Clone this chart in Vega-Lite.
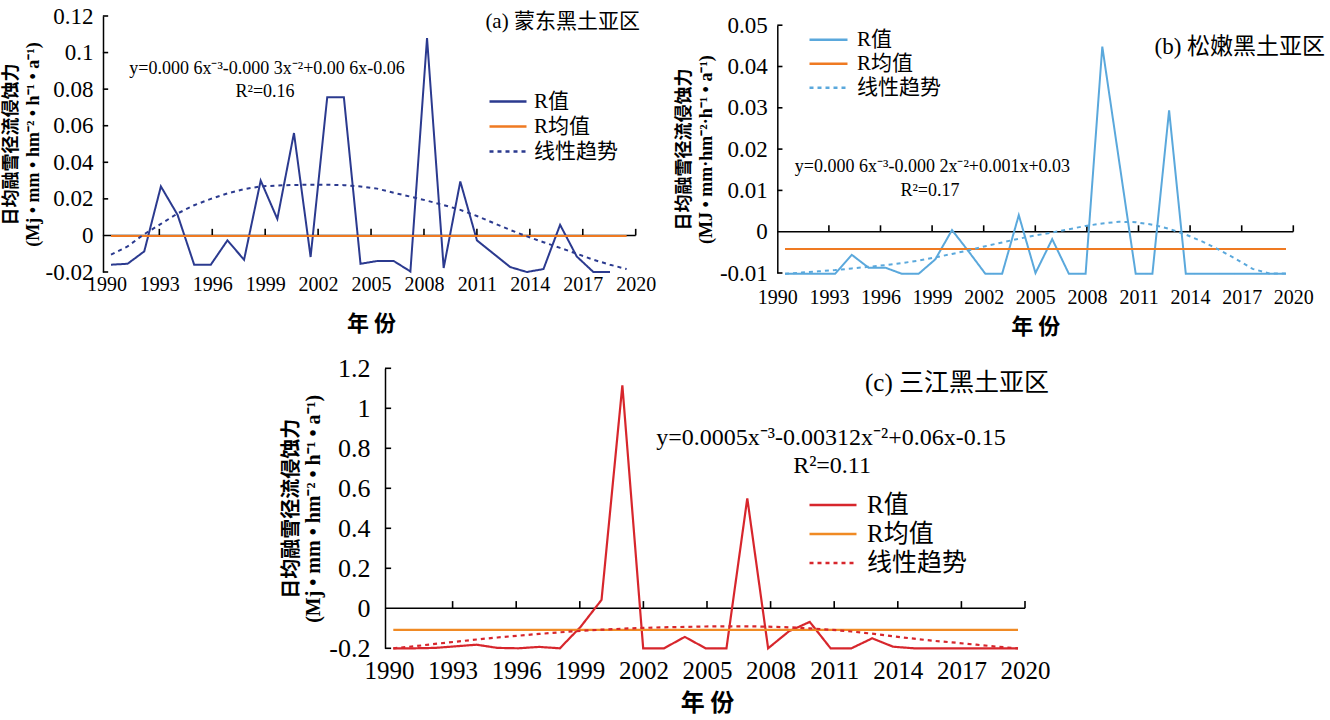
{
  "$schema": "https://vega.github.io/schema/vega-lite/v6.json",
  "width": 1330,
  "height": 720,
  "autosize": "none",
  "padding": 0,
  "background": "white",
  "config": {"view": {"stroke": null}, "axis": {"grid": false, "labelColor": "black", "titleColor": "black"}},
  "datasets": {
    "series": [
      {"p":"A","s":"R值","year":1990,"v":-0.016},{"p":"A","s":"R值","year":1991,"v":-0.0155},{"p":"A","s":"R值","year":1992,"v":-0.0087},{"p":"A","s":"R值","year":1993,"v":0.0268},{"p":"A","s":"R值","year":1994,"v":0.0113},{"p":"A","s":"R值","year":1995,"v":-0.016},{"p":"A","s":"R值","year":1996,"v":-0.016},{"p":"A","s":"R值","year":1997,"v":-0.0027},{"p":"A","s":"R值","year":1998,"v":-0.0133},{"p":"A","s":"R值","year":1999,"v":0.030},{"p":"A","s":"R值","year":2000,"v":0.009},{"p":"A","s":"R值","year":2001,"v":0.056},{"p":"A","s":"R值","year":2002,"v":-0.0118},{"p":"A","s":"R值","year":2003,"v":0.0756},{"p":"A","s":"R值","year":2004,"v":0.0756},{"p":"A","s":"R值","year":2005,"v":-0.0155},{"p":"A","s":"R值","year":2006,"v":-0.014},{"p":"A","s":"R值","year":2007,"v":-0.014},{"p":"A","s":"R值","year":2008,"v":-0.0197},{"p":"A","s":"R值","year":2009,"v":0.1079},{"p":"A","s":"R值","year":2010,"v":-0.0178},{"p":"A","s":"R值","year":2011,"v":0.0295},{"p":"A","s":"R值","year":2012,"v":-0.0027},{"p":"A","s":"R值","year":2013,"v":-0.010},{"p":"A","s":"R值","year":2014,"v":-0.0173},{"p":"A","s":"R值","year":2015,"v":-0.020},{"p":"A","s":"R值","year":2016,"v":-0.0184},{"p":"A","s":"R值","year":2017,"v":0.0058},{"p":"A","s":"R值","year":2018,"v":-0.0115},{"p":"A","s":"R值","year":2019,"v":-0.020},{"p":"A","s":"R值","year":2020,"v":-0.020},
      {"p":"A","s":"R均值","year":1990,"v":-0.0003},{"p":"A","s":"R均值","year":2021,"v":-0.0003},
      {"p":"A","s":"线性趋势","year":1990,"v":-0.0105},{"p":"A","s":"线性趋势","year":1991,"v":-0.006},{"p":"A","s":"线性趋势","year":1992,"v":0.0007},{"p":"A","s":"线性趋势","year":1993,"v":0.0063},{"p":"A","s":"线性趋势","year":1994,"v":0.012},{"p":"A","s":"线性趋势","year":1995,"v":0.0165},{"p":"A","s":"线性趋势","year":1996,"v":0.02},{"p":"A","s":"线性趋势","year":1997,"v":0.023},{"p":"A","s":"线性趋势","year":1998,"v":0.0253},{"p":"A","s":"线性趋势","year":1999,"v":0.0268},{"p":"A","s":"线性趋势","year":2000,"v":0.0273},{"p":"A","s":"线性趋势","year":2001,"v":0.0276},{"p":"A","s":"线性趋势","year":2002,"v":0.0277},{"p":"A","s":"线性趋势","year":2003,"v":0.0277},{"p":"A","s":"线性趋势","year":2004,"v":0.0275},{"p":"A","s":"线性趋势","year":2005,"v":0.0268},{"p":"A","s":"线性趋势","year":2006,"v":0.0256},{"p":"A","s":"线性趋势","year":2007,"v":0.0233},{"p":"A","s":"线性趋势","year":2008,"v":0.0212},{"p":"A","s":"线性趋势","year":2009,"v":0.019},{"p":"A","s":"线性趋势","year":2010,"v":0.0166},{"p":"A","s":"线性趋势","year":2011,"v":0.014},{"p":"A","s":"线性趋势","year":2012,"v":0.0106},{"p":"A","s":"线性趋势","year":2013,"v":0.0068},{"p":"A","s":"线性趋势","year":2014,"v":0.003},{"p":"A","s":"线性趋势","year":2015,"v":-0.0005},{"p":"A","s":"线性趋势","year":2016,"v":-0.0037},{"p":"A","s":"线性趋势","year":2017,"v":-0.0068},{"p":"A","s":"线性趋势","year":2018,"v":-0.01},{"p":"A","s":"线性趋势","year":2019,"v":-0.0133},{"p":"A","s":"线性趋势","year":2020,"v":-0.016},{"p":"A","s":"线性趋势","year":2021,"v":-0.0184},
      {"p":"B","s":"R值","year":1990,"v":-0.0102},{"p":"B","s":"R值","year":1991,"v":-0.0102},{"p":"B","s":"R值","year":1992,"v":-0.0102},{"p":"B","s":"R值","year":1993,"v":-0.0102},{"p":"B","s":"R值","year":1994,"v":-0.0056},{"p":"B","s":"R值","year":1995,"v":-0.0087},{"p":"B","s":"R值","year":1996,"v":-0.0087},{"p":"B","s":"R值","year":1997,"v":-0.0102},{"p":"B","s":"R值","year":1998,"v":-0.0102},{"p":"B","s":"R值","year":1999,"v":-0.0067},{"p":"B","s":"R值","year":2000,"v":0.0004},{"p":"B","s":"R值","year":2001,"v":-0.0048},{"p":"B","s":"R值","year":2002,"v":-0.0102},{"p":"B","s":"R值","year":2003,"v":-0.0102},{"p":"B","s":"R值","year":2004,"v":0.004},{"p":"B","s":"R值","year":2005,"v":-0.01},{"p":"B","s":"R值","year":2006,"v":-0.0018},{"p":"B","s":"R值","year":2007,"v":-0.0102},{"p":"B","s":"R值","year":2008,"v":-0.0102},{"p":"B","s":"R值","year":2009,"v":0.0448},{"p":"B","s":"R值","year":2010,"v":0.0173},{"p":"B","s":"R值","year":2011,"v":-0.0102},{"p":"B","s":"R值","year":2012,"v":-0.0102},{"p":"B","s":"R值","year":2013,"v":0.0294},{"p":"B","s":"R值","year":2014,"v":-0.0102},{"p":"B","s":"R值","year":2015,"v":-0.0102},{"p":"B","s":"R值","year":2016,"v":-0.0102},{"p":"B","s":"R值","year":2017,"v":-0.0102},{"p":"B","s":"R值","year":2018,"v":-0.0102},{"p":"B","s":"R值","year":2019,"v":-0.0102},{"p":"B","s":"R值","year":2020,"v":-0.0102},
      {"p":"B","s":"R均值","year":1990,"v":-0.0042},{"p":"B","s":"R均值","year":2020,"v":-0.0042},
      {"p":"B","s":"线性趋势","year":1990,"v":-0.0102},{"p":"B","s":"线性趋势","year":1991,"v":-0.0099},{"p":"B","s":"线性趋势","year":1992,"v":-0.0096},{"p":"B","s":"线性趋势","year":1993,"v":-0.0093},{"p":"B","s":"线性趋势","year":1994,"v":-0.0089},{"p":"B","s":"线性趋势","year":1995,"v":-0.0085},{"p":"B","s":"线性趋势","year":1996,"v":-0.0081},{"p":"B","s":"线性趋势","year":1997,"v":-0.0076},{"p":"B","s":"线性趋势","year":1998,"v":-0.007},{"p":"B","s":"线性趋势","year":1999,"v":-0.0062},{"p":"B","s":"线性趋势","year":2000,"v":-0.0054},{"p":"B","s":"线性趋势","year":2001,"v":-0.0045},{"p":"B","s":"线性趋势","year":2002,"v":-0.0035},{"p":"B","s":"线性趋势","year":2003,"v":-0.0026},{"p":"B","s":"线性趋势","year":2004,"v":-0.0017},{"p":"B","s":"线性趋势","year":2005,"v":-0.0009},{"p":"B","s":"线性趋势","year":2006,"v":-0.0002},{"p":"B","s":"线性趋势","year":2007,"v":0.0006},{"p":"B","s":"线性趋势","year":2008,"v":0.0014},{"p":"B","s":"线性趋势","year":2009,"v":0.002},{"p":"B","s":"线性趋势","year":2010,"v":0.0024},{"p":"B","s":"线性趋势","year":2011,"v":0.0023},{"p":"B","s":"线性趋势","year":2012,"v":0.0017},{"p":"B","s":"线性趋势","year":2013,"v":0.0007},{"p":"B","s":"线性趋势","year":2014,"v":-0.0007},{"p":"B","s":"线性趋势","year":2015,"v":-0.0024},{"p":"B","s":"线性趋势","year":2016,"v":-0.0044},{"p":"B","s":"线性趋势","year":2017,"v":-0.0066},{"p":"B","s":"线性趋势","year":2018,"v":-0.009},{"p":"B","s":"线性趋势","year":2019,"v":-0.0101},{"p":"B","s":"线性趋势","year":2020,"v":-0.0101},
      {"p":"C","s":"R值","year":1990,"v":-0.2},{"p":"C","s":"R值","year":1991,"v":-0.2},{"p":"C","s":"R值","year":1992,"v":-0.198},{"p":"C","s":"R值","year":1993,"v":-0.19},{"p":"C","s":"R值","year":1994,"v":-0.182},{"p":"C","s":"R值","year":1995,"v":-0.198},{"p":"C","s":"R值","year":1996,"v":-0.2},{"p":"C","s":"R值","year":1997,"v":-0.193},{"p":"C","s":"R值","year":1998,"v":-0.2},{"p":"C","s":"R值","year":1999,"v":-0.092},{"p":"C","s":"R值","year":2000,"v":0.042},{"p":"C","s":"R值","year":2001,"v":1.115},{"p":"C","s":"R值","year":2002,"v":-0.2},{"p":"C","s":"R值","year":2003,"v":-0.2},{"p":"C","s":"R值","year":2004,"v":-0.143},{"p":"C","s":"R值","year":2005,"v":-0.2},{"p":"C","s":"R值","year":2006,"v":-0.2},{"p":"C","s":"R值","year":2007,"v":0.55},{"p":"C","s":"R值","year":2008,"v":-0.2},{"p":"C","s":"R值","year":2009,"v":-0.115},{"p":"C","s":"R值","year":2010,"v":-0.068},{"p":"C","s":"R值","year":2011,"v":-0.2},{"p":"C","s":"R值","year":2012,"v":-0.2},{"p":"C","s":"R值","year":2013,"v":-0.15},{"p":"C","s":"R值","year":2014,"v":-0.192},{"p":"C","s":"R值","year":2015,"v":-0.2},{"p":"C","s":"R值","year":2016,"v":-0.2},{"p":"C","s":"R值","year":2017,"v":-0.2},{"p":"C","s":"R值","year":2018,"v":-0.2},{"p":"C","s":"R值","year":2019,"v":-0.2},{"p":"C","s":"R值","year":2020,"v":-0.2},
      {"p":"C","s":"R均值","year":1990,"v":-0.108},{"p":"C","s":"R均值","year":2020,"v":-0.108},
      {"p":"C","s":"线性趋势","year":1990,"v":-0.2},{"p":"C","s":"线性趋势","year":1991,"v":-0.19},{"p":"C","s":"线性趋势","year":1992,"v":-0.178},{"p":"C","s":"线性趋势","year":1993,"v":-0.167},{"p":"C","s":"线性趋势","year":1994,"v":-0.156},{"p":"C","s":"线性趋势","year":1995,"v":-0.146},{"p":"C","s":"线性趋势","year":1996,"v":-0.137},{"p":"C","s":"线性趋势","year":1997,"v":-0.128},{"p":"C","s":"线性趋势","year":1998,"v":-0.12},{"p":"C","s":"线性趋势","year":1999,"v":-0.113},{"p":"C","s":"线性趋势","year":2000,"v":-0.107},{"p":"C","s":"线性趋势","year":2001,"v":-0.102},{"p":"C","s":"线性趋势","year":2002,"v":-0.098},{"p":"C","s":"线性趋势","year":2003,"v":-0.095},{"p":"C","s":"线性趋势","year":2004,"v":-0.093},{"p":"C","s":"线性趋势","year":2005,"v":-0.091},{"p":"C","s":"线性趋势","year":2006,"v":-0.09},{"p":"C","s":"线性趋势","year":2007,"v":-0.09},{"p":"C","s":"线性趋势","year":2008,"v":-0.092},{"p":"C","s":"线性趋势","year":2009,"v":-0.095},{"p":"C","s":"线性趋势","year":2010,"v":-0.1},{"p":"C","s":"线性趋势","year":2011,"v":-0.107},{"p":"C","s":"线性趋势","year":2012,"v":-0.116},{"p":"C","s":"线性趋势","year":2013,"v":-0.127},{"p":"C","s":"线性趋势","year":2014,"v":-0.14},{"p":"C","s":"线性趋势","year":2015,"v":-0.152},{"p":"C","s":"线性趋势","year":2016,"v":-0.163},{"p":"C","s":"线性趋势","year":2017,"v":-0.172},{"p":"C","s":"线性趋势","year":2018,"v":-0.182},{"p":"C","s":"线性趋势","year":2019,"v":-0.192},{"p":"C","s":"线性趋势","year":2020,"v":-0.2}
    ],
    "notes": [
      {"p":"A","k":"eq","year":1999.38,"v":0.091,"t":"y=0.000 6x⁻³-0.000 3x⁻²+0.00 6x-0.06"},
      {"p":"A","k":"eq","year":1999.26,"v":0.0784,"t":"R²=0.16"},
      {"p":"A","k":"title","year":2021.8,"v":0.1167,"t":"(a) 蒙东黑土亚区"},
      {"p":"B","k":"eq","year":1998.83,"v":0.01567,"t":"y=0.000 6x⁻³-0.000 2x⁻²+0.001x+0.03"},
      {"p":"B","k":"eq","year":1998.68,"v":0.00985,"t":"R²=0.17"},
      {"p":"B","k":"title","year":2022.34,"v":0.0447,"t":"(b) 松嫩黑土亚区"},
      {"p":"C","k":"eq","year":2011.02,"v":0.85,"t":"y=0.0005x⁻³-0.00312x⁻²+0.06x-0.15"},
      {"p":"C","k":"eq","year":2011.07,"v":0.7115,"t":"R²=0.11"},
      {"p":"C","k":"title","year":2021.49,"v":1.1265,"t":"(c) 三江黑土亚区"}
    ],
    "yearTicks": [{"t":1993},{"t":1996},{"t":1999},{"t":2002},{"t":2005},{"t":2008},{"t":2011},{"t":2014},{"t":2017},{"t":2020}],
    "aTicks": [{"t":-0.02},{"t":0.02},{"t":0.04},{"t":0.06},{"t":0.08},{"t":0.1},{"t":0.12}],
    "bTicks": [{"t":-0.01},{"t":0.01},{"t":0.02},{"t":0.03},{"t":0.04},{"t":0.05}],
    "cTicks": [{"t":-0.2},{"t":0.2},{"t":0.4},{"t":0.6},{"t":0.8},{"t":1},{"t":1.2}]
  },
  "resolve": {
    "scale": {"x": "independent", "y": "independent", "color": "independent", "strokeDash": "independent"},
    "axis": {"x": "independent", "y": "independent"},
    "legend": {"color": "independent", "strokeDash": "independent"}
  },
  "layer": [
    {
      "data": {"values": [{}]},
      "mark": {"type": "rule", "color": "black", "strokeWidth": 1.5},
      "encoding": {
        "x": {"datum": 1989.8, "type": "quantitative", "scale": {"domain": [1990, 2020], "range": [106.4, 635.7], "nice": false, "zero": false},
          "axis": {"orient": "bottom", "offset": -484.57, "values": [1990,1993,1996,1999,2002,2005,2008,2011,2014,2017,2020], "format": "d", "domain": false, "ticks": false, "labelPadding": 48.6, "labelBaseline": "middle", "labelFont": "Liberation Serif", "labelFontSize": 20, "labelFlush": false, "labelOverlap": false, "labelBound": false, "title": "年 份", "titleFont": "Noto Sans CJK SC", "titleFontWeight": "bold", "titleFontSize": 22, "titlePadding": 19}},
        "x2": {"datum": 2020},
        "y": {"datum": 0, "type": "quantitative", "scale": {"domain": [-0.02, 0.12], "range": [272, 16], "nice": false, "zero": false}, "axis": null}
      }
    },
    {
      "data": {"name": "yearTicks"},
      "mark": {"type": "rule", "color": "black", "strokeWidth": 1.6},
      "encoding": {
        "x": {"field": "t", "type": "quantitative", "scale": {"domain": [1990, 2020], "range": [106.4, 635.7], "nice": false, "zero": false}, "axis": null},
        "y": {"datum": 0, "type": "quantitative", "scale": {"domain": [-0.02, 0.12], "range": [272, 16], "nice": false, "zero": false}, "axis": null},
        "y2": {"datum": 0.0036}
      }
    },
    {
      "data": {"name": "aTicks"},
      "mark": {"type": "rule", "color": "black", "strokeWidth": 1.6},
      "encoding": {
        "x": {"datum": 1989.8, "type": "quantitative", "scale": {"domain": [1990, 2020], "range": [106.4, 635.7], "nice": false, "zero": false}, "axis": null},
        "x2": {"datum": 1990.1},
        "y": {"field": "t", "type": "quantitative", "scale": {"domain": [-0.02, 0.12], "range": [272, 16], "nice": false, "zero": false}, "axis": null}
      }
    },
    {
      "data": {"name": "series"},
      "transform": [{"filter": "datum.p == 'A'"}],
      "mark": {"type": "line", "strokeWidth": 2},
      "encoding": {
        "x": {"field": "year", "type": "quantitative", "scale": {"domain": [1990, 2020], "range": [111, 610], "nice": false, "zero": false}, "axis": null},
        "y": {"field": "v", "type": "quantitative", "scale": {"domain": [-0.02, 0.12], "range": [272, 16], "nice": false, "zero": false},
          "axis": {"orient": "left", "offset": -103, "values": [-0.02,0,0.02,0.04,0.06,0.08,0.1,0.12], "labelExpr": "'' + datum.value", "domainColor": "black", "domainWidth": 1.5, "ticks": false, "labelPadding": 10, "labelFont": "Liberation Serif", "labelFontSize": 23, "labelFlush": false, "labelOverlap": false, "labelBound": false,
            "title": ["日均融雪径流侵蚀力", "(Mj • mm • hm⁻² • h⁻¹ • a⁻¹)"], "titleFont": "Liberation Serif, Noto Sans CJK SC", "titleFontSize": 18, "titleFontWeight": "bold", "titlePadding": 3, "titleLineHeight": 22}},
        "color": {"field": "s", "type": "nominal", "scale": {"domain": ["R值","R均值","线性趋势"], "range": ["#2B3A8F","#EF7A22","#2B3A8F"]},
          "legend": {"orient": "none", "legendX": 488, "legendY": 89, "title": null, "symbolType": "stroke", "symbolSize": 1369, "symbolStrokeWidth": 2.5, "labelFont": "Liberation Serif, Noto Sans CJK SC", "labelFontSize": 21, "labelColor": "black", "labelOffset": 6, "rowPadding": 0, "clipHeight": 25}},
        "strokeDash": {"field": "s", "type": "nominal", "scale": {"domain": ["R值","R均值","线性趋势"], "range": [[1,0],[1,0],[4,4]]},
          "legend": {"orient": "none", "legendX": 488, "legendY": 89, "title": null, "symbolType": "stroke", "symbolSize": 1369, "symbolStrokeWidth": 2.5, "labelFont": "Liberation Serif, Noto Sans CJK SC", "labelFontSize": 21, "labelColor": "black", "labelOffset": 6, "rowPadding": 0, "clipHeight": 25}}
      }
    },
    {
      "data": {"name": "notes"},
      "transform": [{"filter": "datum.p == 'A' && datum.k == 'eq'"}],
      "mark": {"type": "text", "font": "Liberation Serif", "fontSize": 18, "color": "black"},
      "encoding": {
        "x": {"field": "year", "type": "quantitative", "scale": {"domain": [1990, 2020], "range": [111, 610], "nice": false, "zero": false}, "axis": null},
        "y": {"field": "v", "type": "quantitative", "scale": {"domain": [-0.02, 0.12], "range": [272, 16], "nice": false, "zero": false}, "axis": null},
        "text": {"field": "t"}
      }
    },
    {
      "data": {"name": "notes"},
      "transform": [{"filter": "datum.p == 'A' && datum.k == 'title'"}],
      "mark": {"type": "text", "font": "Liberation Serif, Noto Sans CJK SC", "fontSize": 21, "align": "right", "color": "black"},
      "encoding": {
        "x": {"field": "year", "type": "quantitative", "scale": {"domain": [1990, 2020], "range": [111, 610], "nice": false, "zero": false}, "axis": null},
        "y": {"field": "v", "type": "quantitative", "scale": {"domain": [-0.02, 0.12], "range": [272, 16], "nice": false, "zero": false}, "axis": null},
        "text": {"field": "t"}
      }
    },
    {
      "data": {"values": [{}]},
      "mark": {"type": "rule", "color": "black", "strokeWidth": 1.5},
      "encoding": {
        "x": {"datum": 1990, "type": "quantitative", "scale": {"domain": [1990, 2020], "range": [777.3, 1293.3], "nice": false, "zero": false},
          "axis": {"orient": "bottom", "offset": -488.3, "values": [1990,1993,1996,1999,2002,2005,2008,2011,2014,2017,2020], "format": "d", "domain": false, "ticks": false, "labelPadding": 65.3, "labelBaseline": "middle", "labelFont": "Liberation Serif", "labelFontSize": 20, "labelFlush": false, "labelOverlap": false, "labelBound": false, "title": "年 份", "titleFont": "Noto Sans CJK SC", "titleFontWeight": "bold", "titleFontSize": 22, "titlePadding": 9}},
        "x2": {"datum": 2020},
        "y": {"datum": 0, "type": "quantitative", "scale": {"domain": [-0.01, 0.05], "range": [273, 25.2], "nice": false, "zero": false}, "axis": null}
      }
    },
    {
      "data": {"name": "yearTicks"},
      "mark": {"type": "rule", "color": "black", "strokeWidth": 1.6},
      "encoding": {
        "x": {"field": "t", "type": "quantitative", "scale": {"domain": [1990, 2020], "range": [777.3, 1293.3], "nice": false, "zero": false}, "axis": null},
        "y": {"datum": 0, "type": "quantitative", "scale": {"domain": [-0.01, 0.05], "range": [273, 25.2], "nice": false, "zero": false}, "axis": null},
        "y2": {"datum": 0.00155}
      }
    },
    {
      "data": {"name": "bTicks"},
      "mark": {"type": "rule", "color": "black", "strokeWidth": 1.6},
      "encoding": {
        "x": {"datum": 1990, "type": "quantitative", "scale": {"domain": [1990, 2020], "range": [777.3, 1293.3], "nice": false, "zero": false}, "axis": null},
        "x2": {"datum": 1990.3},
        "y": {"field": "t", "type": "quantitative", "scale": {"domain": [-0.01, 0.05], "range": [273, 25.2], "nice": false, "zero": false}, "axis": null}
      }
    },
    {
      "data": {"name": "series"},
      "transform": [{"filter": "datum.p == 'B'"}],
      "mark": {"type": "line", "strokeWidth": 2},
      "encoding": {
        "x": {"field": "year", "type": "quantitative", "scale": {"domain": [1990, 2020], "range": [785, 1286], "nice": false, "zero": false}, "axis": null},
        "y": {"field": "v", "type": "quantitative", "scale": {"domain": [-0.01, 0.05], "range": [273, 25.2], "nice": false, "zero": false},
          "axis": {"orient": "left", "offset": -777.3, "values": [-0.01,0,0.01,0.02,0.03,0.04,0.05], "labelExpr": "'' + datum.value", "domainColor": "black", "domainWidth": 1.5, "ticks": false, "labelPadding": 10, "labelFont": "Liberation Serif", "labelFontSize": 23, "labelFlush": false, "labelOverlap": false, "labelBound": false,
            "title": ["日均融雪径流侵蚀力", "(MJ • mm·hm⁻²·h⁻¹ • a⁻¹)"], "titleFont": "Liberation Serif, Noto Sans CJK SC", "titleFontSize": 18, "titleFontWeight": "bold", "titlePadding": 4, "titleLineHeight": 22}},
        "color": {"field": "s", "type": "nominal", "scale": {"domain": ["R值","R均值","线性趋势"], "range": ["#5AA8DC","#EF7A22","#5AA8DC"]},
          "legend": {"orient": "none", "legendX": 808, "legendY": 28, "title": null, "symbolType": "stroke", "symbolSize": 1444, "symbolStrokeWidth": 2.5, "labelFont": "Liberation Serif, Noto Sans CJK SC", "labelFontSize": 21, "labelColor": "black", "labelOffset": 8, "rowPadding": 0, "clipHeight": 23.3}},
        "strokeDash": {"field": "s", "type": "nominal", "scale": {"domain": ["R值","R均值","线性趋势"], "range": [[1,0],[1,0],[4,4]]},
          "legend": {"orient": "none", "legendX": 808, "legendY": 28, "title": null, "symbolType": "stroke", "symbolSize": 1444, "symbolStrokeWidth": 2.5, "labelFont": "Liberation Serif, Noto Sans CJK SC", "labelFontSize": 21, "labelColor": "black", "labelOffset": 8, "rowPadding": 0, "clipHeight": 23.3}}
      }
    },
    {
      "data": {"name": "notes"},
      "transform": [{"filter": "datum.p == 'B' && datum.k == 'eq'"}],
      "mark": {"type": "text", "font": "Liberation Serif", "fontSize": 18, "color": "black"},
      "encoding": {
        "x": {"field": "year", "type": "quantitative", "scale": {"domain": [1990, 2020], "range": [785, 1286], "nice": false, "zero": false}, "axis": null},
        "y": {"field": "v", "type": "quantitative", "scale": {"domain": [-0.01, 0.05], "range": [273, 25.2], "nice": false, "zero": false}, "axis": null},
        "text": {"field": "t"}
      }
    },
    {
      "data": {"name": "notes"},
      "transform": [{"filter": "datum.p == 'B' && datum.k == 'title'"}],
      "mark": {"type": "text", "font": "Liberation Serif, Noto Sans CJK SC", "fontSize": 23, "align": "right", "color": "black"},
      "encoding": {
        "x": {"field": "year", "type": "quantitative", "scale": {"domain": [1990, 2020], "range": [785, 1286], "nice": false, "zero": false}, "axis": null},
        "y": {"field": "v", "type": "quantitative", "scale": {"domain": [-0.01, 0.05], "range": [273, 25.2], "nice": false, "zero": false}, "axis": null},
        "text": {"field": "t"}
      }
    },
    {
      "data": {"values": [{}]},
      "mark": {"type": "rule", "color": "black", "strokeWidth": 1.5},
      "encoding": {
        "x": {"datum": 1989.81, "type": "quantitative", "scale": {"domain": [1990, 2020], "range": [389, 1025], "nice": false, "zero": false},
          "axis": {"orient": "bottom", "offset": -111.7, "values": [1990,1993,1996,1999,2002,2005,2008,2011,2014,2017,2020], "format": "d", "domain": false, "ticks": false, "labelPadding": 62.4, "labelBaseline": "middle", "labelFont": "Liberation Serif", "labelFontSize": 25, "labelFlush": false, "labelOverlap": false, "labelBound": false, "title": "年 份", "titleFont": "Noto Sans CJK SC", "titleFontWeight": "bold", "titleFontSize": 24, "titlePadding": 8}},
        "x2": {"datum": 2020},
        "y": {"datum": 0, "type": "quantitative", "scale": {"domain": [-0.2, 1.2], "range": [648.3, 368.3], "nice": false, "zero": false}, "axis": null}
      }
    },
    {
      "data": {"name": "yearTicks"},
      "mark": {"type": "rule", "color": "black", "strokeWidth": 1.6},
      "encoding": {
        "x": {"field": "t", "type": "quantitative", "scale": {"domain": [1990, 2020], "range": [389, 1025], "nice": false, "zero": false}, "axis": null},
        "y": {"datum": 0, "type": "quantitative", "scale": {"domain": [-0.2, 1.2], "range": [648.3, 368.3], "nice": false, "zero": false}, "axis": null},
        "y2": {"datum": 0.036}
      }
    },
    {
      "data": {"name": "cTicks"},
      "mark": {"type": "rule", "color": "black", "strokeWidth": 1.6},
      "encoding": {
        "x": {"datum": 1989.81, "type": "quantitative", "scale": {"domain": [1990, 2020], "range": [389, 1025], "nice": false, "zero": false}, "axis": null},
        "x2": {"datum": 1990.1},
        "y": {"field": "t", "type": "quantitative", "scale": {"domain": [-0.2, 1.2], "range": [648.3, 368.3], "nice": false, "zero": false}, "axis": null}
      }
    },
    {
      "data": {"name": "series"},
      "transform": [{"filter": "datum.p == 'C'"}],
      "mark": {"type": "line", "strokeWidth": 2.2},
      "encoding": {
        "x": {"field": "year", "type": "quantitative", "scale": {"domain": [1990, 2020], "range": [393.3, 1018], "nice": false, "zero": false}, "axis": null},
        "y": {"field": "v", "type": "quantitative", "scale": {"domain": [-0.2, 1.2], "range": [648.3, 368.3], "nice": false, "zero": false},
          "axis": {"orient": "left", "offset": -385, "values": [-0.2,0,0.2,0.4,0.6,0.8,1,1.2], "labelExpr": "'' + datum.value", "domainColor": "black", "domainWidth": 1.5, "ticks": false, "labelPadding": 15, "labelFont": "Liberation Serif", "labelFontSize": 26, "labelFlush": false, "labelOverlap": false, "labelBound": false,
            "title": ["日均融雪径流侵蚀力", "(Mj • mm • hm⁻² • h⁻¹ • a⁻¹)"], "titleFont": "Liberation Serif, Noto Sans CJK SC", "titleFontSize": 20, "titleFontWeight": "bold", "titlePadding": 5, "titleLineHeight": 22}},
        "color": {"field": "s", "type": "nominal", "scale": {"domain": ["R值","R均值","线性趋势"], "range": ["#D7262C","#F08A24","#D7262C"]},
          "legend": {"orient": "none", "legendX": 808, "legendY": 490.5, "title": null, "symbolType": "stroke", "symbolSize": 2209, "symbolStrokeWidth": 2.5, "labelFont": "Liberation Serif, Noto Sans CJK SC", "labelFontSize": 25, "labelColor": "black", "labelOffset": 9, "rowPadding": 0, "clipHeight": 29}},
        "strokeDash": {"field": "s", "type": "nominal", "scale": {"domain": ["R值","R均值","线性趋势"], "range": [[1,0],[1,0],[4,4]]},
          "legend": {"orient": "none", "legendX": 808, "legendY": 490.5, "title": null, "symbolType": "stroke", "symbolSize": 2209, "symbolStrokeWidth": 2.5, "labelFont": "Liberation Serif, Noto Sans CJK SC", "labelFontSize": 25, "labelColor": "black", "labelOffset": 9, "rowPadding": 0, "clipHeight": 29}}
      }
    },
    {
      "data": {"name": "notes"},
      "transform": [{"filter": "datum.p == 'C' && datum.k == 'eq'"}],
      "mark": {"type": "text", "font": "Liberation Serif", "fontSize": 24, "color": "black"},
      "encoding": {
        "x": {"field": "year", "type": "quantitative", "scale": {"domain": [1990, 2020], "range": [393.3, 1018], "nice": false, "zero": false}, "axis": null},
        "y": {"field": "v", "type": "quantitative", "scale": {"domain": [-0.2, 1.2], "range": [648.3, 368.3], "nice": false, "zero": false}, "axis": null},
        "text": {"field": "t"}
      }
    },
    {
      "data": {"name": "notes"},
      "transform": [{"filter": "datum.p == 'C' && datum.k == 'title'"}],
      "mark": {"type": "text", "font": "Liberation Serif, Noto Sans CJK SC", "fontSize": 25, "align": "right", "color": "black"},
      "encoding": {
        "x": {"field": "year", "type": "quantitative", "scale": {"domain": [1990, 2020], "range": [393.3, 1018], "nice": false, "zero": false}, "axis": null},
        "y": {"field": "v", "type": "quantitative", "scale": {"domain": [-0.2, 1.2], "range": [648.3, 368.3], "nice": false, "zero": false}, "axis": null},
        "text": {"field": "t"}
      }
    }
  ]
}
